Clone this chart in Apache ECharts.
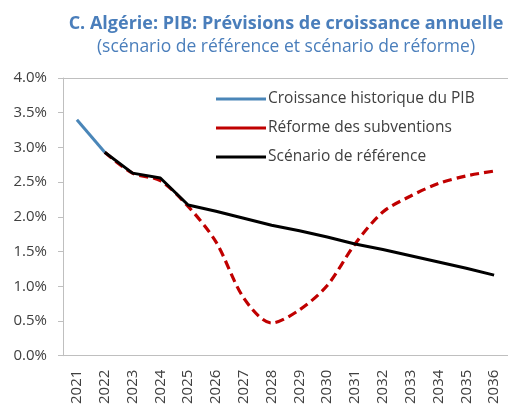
<!DOCTYPE html>
<html>
<head>
<meta charset="utf-8">
<script src="https://cdn.jsdelivr.net/npm/echarts@6/dist/echarts.min.js"></script>
<style>
  html, body { margin: 0; padding: 0; background: #fff; }
  #chart { width: 508px; height: 407px; }
</style>
</head>
<body>
<div id="chart"></div>
<script>
// données (en %)
var years = ['2021', '2022', '2023', '2024', '2025', '2026', '2027', '2028',
             '2029', '2030', '2031', '2032', '2033', '2034', '2035', '2036'];
var historique = [3.40, 2.93, null, null, null, null, null, null,
                  null, null, null, null, null, null, null, null];
var reforme = [null, 2.93, 2.63, 2.52, 2.15, 1.64, 0.83, 0.47,
               0.66, 1.01, 1.61, 2.07, 2.30, 2.48, 2.59, 2.66];
var reference = [null, 2.93, 2.63, 2.56, 2.17, 2.08, 1.98, 1.88,
                 1.80, 1.71, 1.61, 1.53, 1.44, 1.35, 1.26, 1.16];

var names = ['Croissance historique du PIB', 'Réforme des subventions', 'Scénario de référence'];

var chart = echarts.init(document.getElementById('chart'));
var font = '"Open Sans", "Noto Sans", sans-serif';

var option = {
    animation: false,
    textStyle: { fontFamily: font },
    title: {
        text: 'C. Algérie: PIB: Prévisions de croissance annuelle',
        subtext: '(scénario de référence et scénario de réforme)',
        left: 281,
        textAlign: 'center',
        top: 10,
        itemGap: 5,
        textStyle: { fontFamily: font, fontSize: 18, fontWeight: 'bold', color: '#4a7ebb' },
        subtextStyle: { fontFamily: font, fontSize: 17.5, color: '#4a7ebb' }
    },
    legend: {
        orient: 'vertical',
        left: 211,
        top: 83,
        itemWidth: 50,
        itemHeight: 3,
        itemGap: 7,
        icon: 'path://M0,0H50V3H0Z',
        textStyle: { fontFamily: font, fontSize: 15.5, lineHeight: 22, color: '#404040', padding: [0, 0, 0, -3] },
        data: names
    },
    grid: { left: 63, top: 78, width: 448, height: 280 },
    xAxis: [
        {
            type: 'category',
            data: years,
            axisLine: { lineStyle: { color: '#bfbfbf', width: 1 } },
            axisTick: { inside: true, length: 5, alignWithLabel: false, lineStyle: { color: '#bfbfbf' } },
            axisLabel: { rotate: 90, margin: 14, fontSize: 15, color: '#404040', fontFamily: font }
        },
        {
            type: 'category',
            position: 'top',
            data: years,
            axisLine: { show: true, lineStyle: { color: '#bfbfbf', width: 1 } },
            axisTick: { show: false },
            axisLabel: { show: false }
        }
    ],
    yAxis: {
        type: 'value',
        min: 0,
        max: 4,
        interval: 0.5,
        axisLine: { show: true, lineStyle: { color: '#bfbfbf' } },
        axisTick: { show: true, length: 5, lineStyle: { color: '#bfbfbf' } },
        splitLine: { show: false },
        axisLabel: {
            margin: 16,
            fontSize: 15,
            color: '#404040',
            fontFamily: font,
            formatter: function (v) { return v.toFixed(1) + '%'; }
        }
    },
    series: [
        {
            name: names[0],
            type: 'line',
            data: historique,
            showSymbol: false,
            lineStyle: { color: '#4a86b8', width: 3 },
            itemStyle: { color: '#4a86b8' },
            z: 3
        },
        {
            name: names[1],
            type: 'line',
            data: reforme,
            showSymbol: false,
            smooth: 0.3,
            lineStyle: { color: '#c00000', width: 3.2, type: [9, 5] },
            itemStyle: { color: '#c00000' },
            z: 2
        },
        {
            name: names[2],
            type: 'line',
            data: reference,
            showSymbol: false,
            lineStyle: { color: '#000000', width: 3 },
            itemStyle: { color: '#000000' },
            z: 4
        }
    ]
};
chart.setOption(option);
</script>
</body>
</html>
